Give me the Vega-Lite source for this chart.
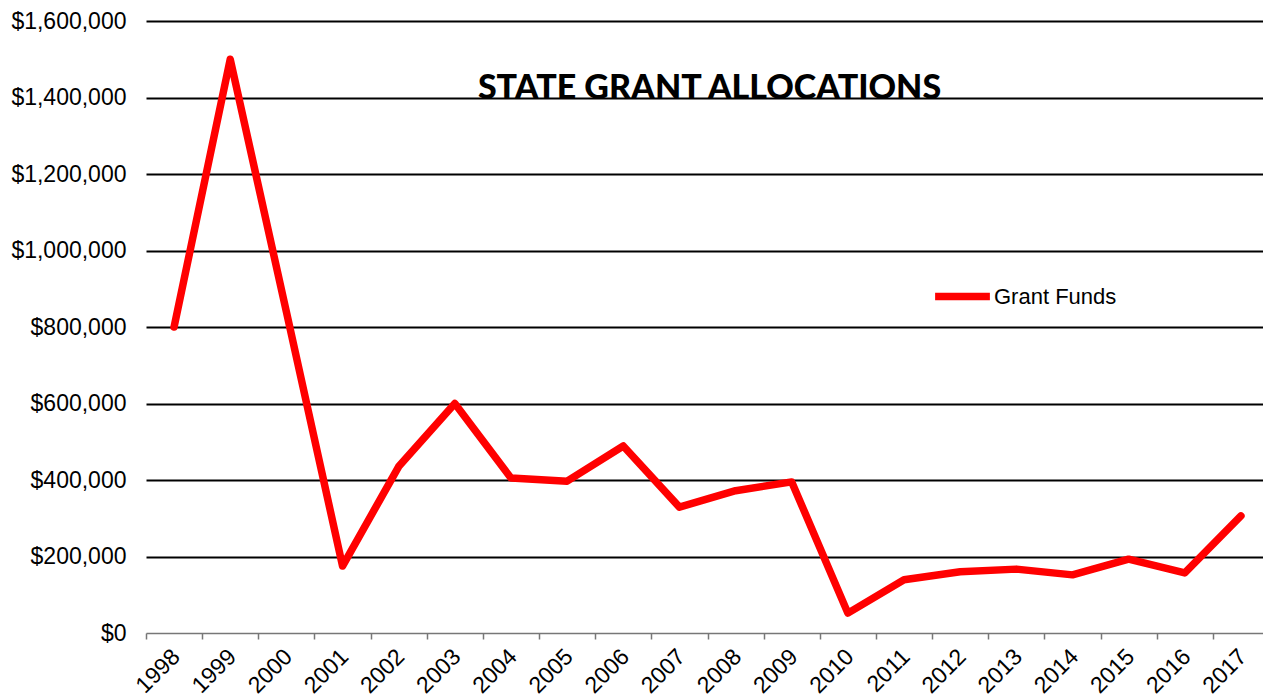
{
  "$schema": "https://vega.github.io/schema/vega-lite/v6.json",
  "width": 1123,
  "height": 612,
  "autosize": "none",
  "padding": {"left": 146, "top": 21, "right": 0, "bottom": 65},
  "background": "white",
  "title": {
    "text": "STATE GRANT ALLOCATIONS",
    "font": "Lato",
    "fontWeight": 900,
    "fontSize": 34,
    "color": "black",
    "anchor": "middle",
    "offset": 0,
    "dy": 96,
    "dx": 2
  },
  "data": {
    "values": [
      {"year": "1998", "series": "Grant Funds", "amount": 800000},
      {"year": "1999", "series": "Grant Funds", "amount": 1500000},
      {"year": "2000", "series": "Grant Funds", "amount": 840000},
      {"year": "2001", "series": "Grant Funds", "amount": 175000},
      {"year": "2002", "series": "Grant Funds", "amount": 435000},
      {"year": "2003", "series": "Grant Funds", "amount": 600000},
      {"year": "2004", "series": "Grant Funds", "amount": 405000},
      {"year": "2005", "series": "Grant Funds", "amount": 397000},
      {"year": "2006", "series": "Grant Funds", "amount": 489000},
      {"year": "2007", "series": "Grant Funds", "amount": 329000},
      {"year": "2008", "series": "Grant Funds", "amount": 372000},
      {"year": "2009", "series": "Grant Funds", "amount": 395000},
      {"year": "2010", "series": "Grant Funds", "amount": 52000},
      {"year": "2011", "series": "Grant Funds", "amount": 139000},
      {"year": "2012", "series": "Grant Funds", "amount": 160000},
      {"year": "2013", "series": "Grant Funds", "amount": 167000},
      {"year": "2014", "series": "Grant Funds", "amount": 152000},
      {"year": "2015", "series": "Grant Funds", "amount": 193000},
      {"year": "2016", "series": "Grant Funds", "amount": 157000},
      {"year": "2017", "series": "Grant Funds", "amount": 306000}
    ]
  },
  "mark": {"type": "line", "strokeWidth": 7.5, "strokeCap": "round", "strokeJoin": "round"},
  "encoding": {
    "x": {
      "field": "year",
      "type": "ordinal",
      "scale": {"type": "band", "paddingInner": 0, "paddingOuter": 0},
      "axis": {
        "title": null,
        "labelAngle": -45,
        "labelFont": "Liberation Sans",
        "labelFontSize": 23,
        "labelColor": "black",
        "domainColor": "#777777",
        "domainWidth": 1.5,
        "tickColor": "#777777",
        "tickWidth": 1.5,
        "tickSize": 6,
        "tickBand": "extent",
        "labelPadding": 6,
        "labelOffset": -6,
        "grid": false
      }
    },
    "y": {
      "field": "amount",
      "type": "quantitative",
      "scale": {"domain": [0, 1600000], "nice": false},
      "axis": {
        "title": null,
        "values": [0, 200000, 400000, 600000, 800000, 1000000, 1200000, 1400000, 1600000],
        "format": "$,.0f",
        "labelFont": "Liberation Sans",
        "labelFontSize": 23,
        "labelColor": "black",
        "labelPadding": 20,
        "domain": false,
        "ticks": false,
        "grid": true,
        "gridColor": {"condition": {"test": "datum.value === 0", "value": "transparent"}, "value": "black"},
        "gridWidth": 2,
        "gridOpacity": 1
      }
    },
    "color": {
      "field": "series",
      "type": "nominal",
      "scale": {"range": ["#FF0000"]},
      "legend": {
        "title": null,
        "orient": "none",
        "legendX": 785,
        "legendY": 244,
        "symbolType": "stroke",
        "symbolSize": 3000,
        "symbolStrokeWidth": 7.5,
        "labelFont": "Liberation Sans",
        "labelFontSize": 22,
        "labelColor": "black",
        "labelOffset": 0
      }
    }
  },
  "config": {"view": {"stroke": null}}
}
